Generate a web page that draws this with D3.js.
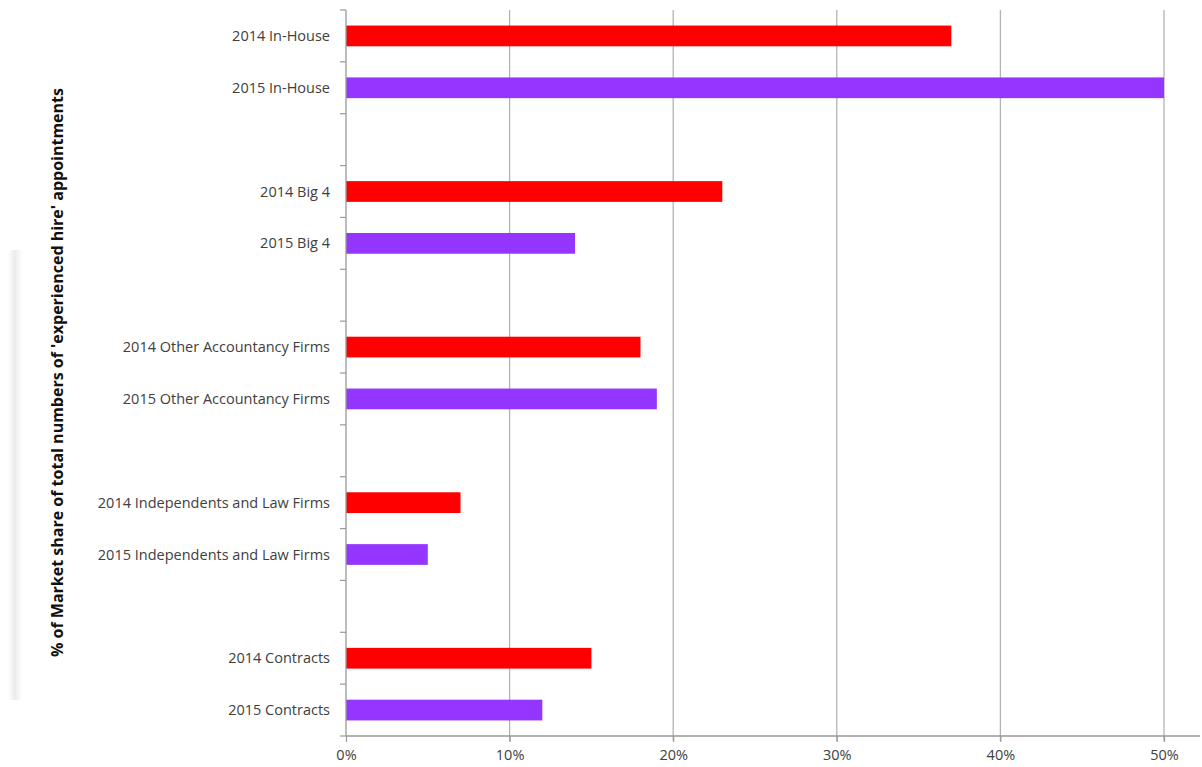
<!DOCTYPE html>
<html>
<head>
<meta charset="utf-8">
<script src="https://cdn.jsdelivr.net/npm/d3@7/dist/d3.min.js"></script>
<style>
body{margin:0;background:#fff;}
svg{display:block;}
text{font-family:"Open Sans","Liberation Sans",sans-serif;}
</style>
</head>
<body>
<svg id="chart" width="1202" height="767"></svg>
<script>
const categories = ["2014 In-House","2015 In-House","gap1","2014 Big 4","2015 Big 4","gap2",
  "2014 Other Accountancy Firms","2015 Other Accountancy Firms","gap3",
  "2014 Independents and Law Firms","2015 Independents and Law Firms","gap4",
  "2014 Contracts","2015 Contracts"];
const values = [0.37,0.50,null,0.23,0.14,null,0.18,0.19,null,0.07,0.05,null,0.15,0.12];
const years = ["2014","2015",null,"2014","2015",null,"2014","2015",null,"2014","2015",null,"2014","2015"];
const xTicks = [0,0.1,0.2,0.3,0.4,0.5];
const yTitle = "% of Market share of total numbers of 'experienced hire' appointments";
const colors = {"2014":"#ff0000","2015":"#9436ff"};

(function(){
const svg = d3.select("#chart");
const mLeft = 346, mRight = 1164, mTop = 10, mBottom = 736;

const x = d3.scaleLinear().domain([0,0.5]).range([mLeft,mRight]);
const y = d3.scaleBand().domain(categories).range([mTop,mBottom]).paddingInner(0.6).paddingOuter(0.3);

// faint shadow band on left
const defs = svg.append("defs");
const g1 = defs.append("linearGradient").attr("id","sh").attr("x1",0).attr("x2",1);
g1.append("stop").attr("offset","0").attr("stop-color","#ffffff");
g1.append("stop").attr("offset","0.5").attr("stop-color","#ececec");
g1.append("stop").attr("offset","1").attr("stop-color","#ffffff");
svg.append("rect").attr("x",8).attr("y",250).attr("width",14).attr("height",450).attr("fill","url(#sh)");

// gridlines
svg.append("g").selectAll("line").data(xTicks.slice(1)).join("line")
  .attr("x1",d=>x(d)).attr("x2",d=>x(d)).attr("y1",mTop).attr("y2",mBottom+5)
  .attr("stroke","#b3b3b3").attr("stroke-width",1.3);

// bars
svg.append("g").selectAll("rect").data(categories.map((c,i)=>({c,v:values[i],yr:years[i]})).filter(d=>d.v!=null)).join("rect")
  .attr("x",x(0)).attr("y",d=>y(d.c)).attr("width",d=>x(d.v)-x(0)).attr("height",y.bandwidth())
  .attr("fill",d=>colors[d.yr]);

// y axis
const slot = (mBottom-mTop)/categories.length;
const tickYs = d3.range(categories.length+1).map(i=>mTop+i*slot);
svg.append("g").selectAll("line").data(tickYs).join("line")
  .attr("x1",mLeft-6).attr("x2",mLeft).attr("y1",d=>d).attr("y2",d=>d)
  .attr("stroke","#999").attr("stroke-width",1.2);
svg.append("line").attr("x1",mLeft).attr("x2",mLeft).attr("y1",mTop).attr("y2",mBottom)
  .attr("stroke","#999").attr("stroke-width",1.3);

// y labels
svg.append("g").selectAll("text").data(categories.filter(c=>!c.startsWith("gap"))).join("text")
  .attr("x",330).attr("y",c=>y(c)+y.bandwidth()/2).attr("dy","0.35em")
  .attr("text-anchor","end").attr("font-size",14.5).attr("fill","#404040").text(c=>c);

// x axis
const xAxis = d3.axisBottom(x).tickValues(xTicks).tickFormat(d3.format(".0%")).tickSize(6).tickSizeOuter(0);
const ga = svg.append("g").attr("transform",`translate(0,${mBottom})`).call(xAxis);
ga.select(".domain").remove();
ga.selectAll(".tick line").attr("stroke","#999").attr("stroke-width",1.2);
ga.selectAll(".tick text").attr("font-size",14.5).attr("fill","#404040").attr("dy","1.05em")
  .attr("font-family","'Open Sans','Liberation Sans',sans-serif");
svg.append("line").attr("x1",mLeft).attr("x2",1200).attr("y1",mBottom).attr("y2",mBottom)
  .attr("stroke","#999").attr("stroke-width",1.3);

// y title
svg.append("text").attr("transform",`translate(57,${(80+665)/2}) rotate(-90)`)
  .attr("text-anchor","middle").attr("dy","0.35em").attr("font-size",16).attr("font-weight","bold")
  .attr("fill","#111").text(yTitle);
})();
</script>
</body>
</html>
